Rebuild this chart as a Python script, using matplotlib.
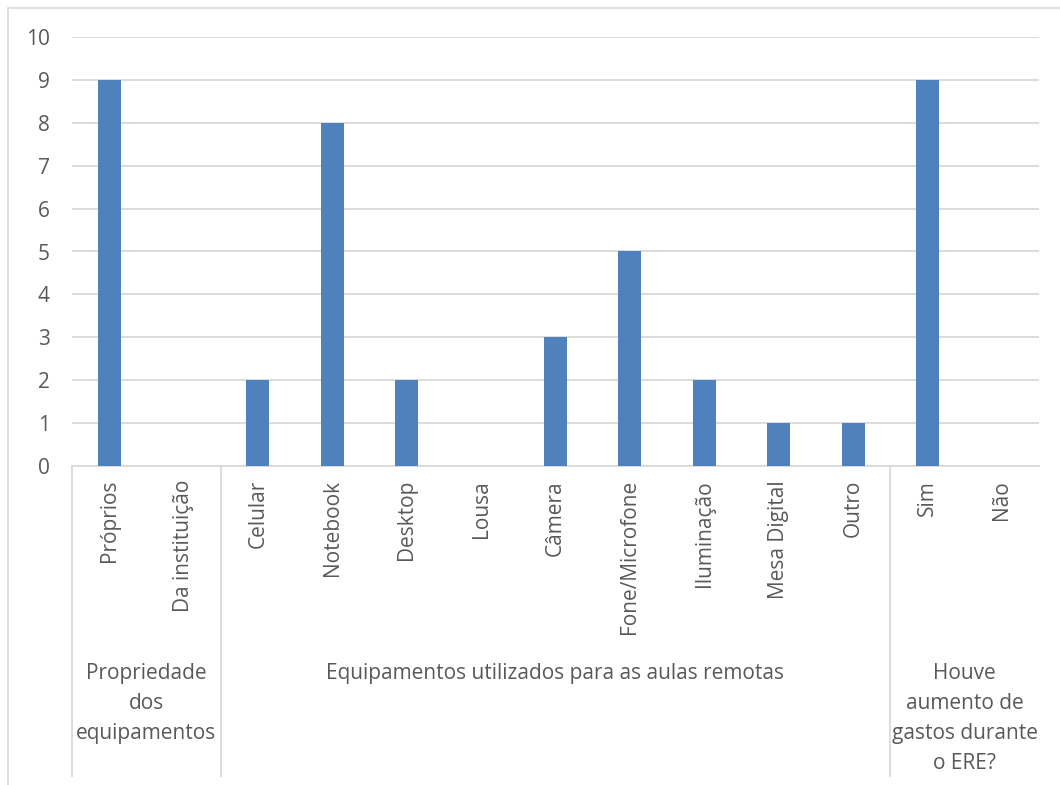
import matplotlib
matplotlib.use("Agg")
import matplotlib.pyplot as plt
from matplotlib.patches import Rectangle
import matplotlib.transforms as mtransforms

categories = ['Próprios', 'Da instituição', 'Celular', 'Notebook', 'Desktop', 'Lousa',
              'Câmera', 'Fone/Microfone', 'Iluminação', 'Mesa Digital', 'Outro', 'Sim', 'Não']
values = [9, 0, 2, 8, 2, 0, 3, 5, 2, 1, 1, 9, 0]
groups = ['Propriedade\ndos\nequipamentos',
          'Equipamentos utilizados para as aulas remotas',
          'Houve\naumento de\ngastos durante\no ERE?']
group_sizes = [2, 9, 2]

plt.rcParams['font.family'] = ['Open Sans', 'DejaVu Sans']
text_color = '#595959'
grid_color = '#d9d9d9'

W, H = 1060, 785
fig = plt.figure(figsize=(W / 100, H / 100), dpi=100)
ax = fig.add_axes([72 / W, (H - 466) / H, (1039 - 72) / W, (466 - 37) / H])

# chart border (Excel style, cut on the right and bottom)
fig.patches.append(Rectangle((8 / W, -0.01), 1.1, (H - 8) / H + 0.01, transform=fig.transFigure,
                             fill=False, edgecolor=grid_color, linewidth=1.2))

x = list(range(len(categories)))
ax.bar(x, values, width=0.31, color='#4f81bd', zorder=3)
ax.set_xlim(-0.5, len(categories) - 0.5)
ax.set_ylim(0, 10)
ax.set_yticks(range(0, 11))
ax.yaxis.grid(True, color=grid_color, linewidth=1.3, zorder=0)
for s in ['top', 'right', 'left']:
    ax.spines[s].set_visible(False)
ax.spines['bottom'].set_color(grid_color)
ax.spines['bottom'].set_linewidth(1.3)
ax.tick_params(axis='y', length=0, pad=16, labelsize=15, labelcolor=text_color)
ax.tick_params(axis='x', length=0, pad=10, labelsize=15, labelcolor=text_color)
ax.set_xticks(x)
ax.set_xticklabels(categories, rotation=90, va='top', ha='center')

# group separators and labels
trans = mtransforms.blended_transform_factory(ax.transData, ax.transAxes)
y_bottom = (466 - 776) / (466 - 37)
y_label = (466 - 663) / (466 - 37)
start = 0
edges = [-0.5]
for name, n in zip(groups, group_sizes):
    end = start + n
    edges.append(end - 0.5)
    ax.text((start + end - 1) / 2, y_label, name, transform=trans, ha='center', va='top',
            multialignment='center', fontsize=15, color=text_color, linespacing=1.56)
    start = end
for e in edges[:-1]:
    ax.plot([e, e], [0, y_bottom], transform=trans, color=grid_color, linewidth=1.3,
            clip_on=False)

fig.savefig('out.png', dpi=100)
